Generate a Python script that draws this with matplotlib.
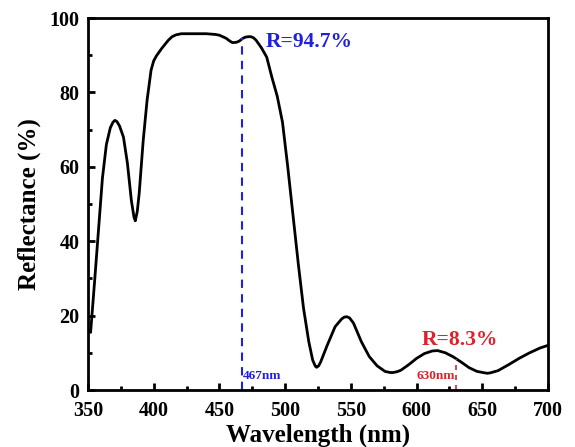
import numpy as np
import matplotlib.pyplot as plt
from matplotlib.ticker import MultipleLocator

plt.rcParams['font.family'] = ['Liberation Serif', 'DejaVu Serif']
plt.rcParams['font.weight'] = 'bold'

wavelength = [350.5, 352, 355, 358, 361, 364, 367, 369, 370.5, 372, 374, 377, 380, 383, 385, 386,
              387.5, 389, 392, 395, 398, 400, 402, 406, 411, 414, 417, 421, 425, 440, 447, 450, 455, 458, 460, 463, 465,
              468, 470, 472, 474, 476, 478, 482, 486, 490, 494, 498, 502, 506, 510, 514, 518, 521,
              523, 524, 525.5, 527, 532, 538, 543, 545, 547, 549, 552, 558, 564, 570, 576, 580, 582, 585, 588, 594,
              600, 606, 612, 616, 622, 628, 634, 640, 646, 652, 654, 656, 662, 670, 678,
              686, 694, 700]
reflectance = [16, 15.5, 29, 43, 57, 66, 70.5, 72, 72.5, 72.2, 71, 68, 61, 51, 46.5, 45.5,
               48, 53, 67, 78, 86, 88.5, 89.8, 91.8, 94, 95, 95.5, 95.8, 95.8, 95.8, 95.6, 95.4, 94.6, 93.8, 93.4, 93.5, 93.8,
               94.6, 94.9, 95, 95, 94.7, 94, 92, 89.5, 84, 79, 72, 60, 47, 34, 22, 13, 8,
               6.4, 6.1, 6.5, 7.5, 12, 17, 19.1, 19.6, 19.7, 19.4, 18, 13, 9, 6.5, 5, 4.7, 4.7, 4.9, 5.3, 6.8,
               8.5, 9.8, 10.5, 10.6, 10, 8.9, 7.5, 6, 5, 4.6, 4.5, 4.6, 5.2, 6.8, 8.5,
               10, 11.3, 12]

# Puntos marcados
peak_wl, peak_r = 467, 94.7
low_wl, low_r = 630, 8.3

fig = plt.figure(figsize=(5.75, 4.47), dpi=100)
ax = fig.add_axes([0.153, 0.1275, 0.8, 0.832])

ax.plot(wavelength, reflectance, color='black', linewidth=2, solid_joinstyle='round')

# Líneas de referencia
ax.plot([peak_wl, peak_wl], [0, peak_r], color='#2020e0', linestyle=(0, (4, 3)), linewidth=1.5)
ax.plot([low_wl, low_wl], [0, low_r], color='#e0202a', linestyle=(0, (3, 3)), linewidth=1.2)

ax.text(peak_wl + 18.5, 92.3, f'R={peak_r}%', color='#2020e0', fontsize=15.5, fontweight='bold')
ax.text(peak_wl + 0.8, 3, f'{peak_wl}nm', color='#2020e0', fontsize=9.5, fontweight='bold')
ax.text(604, 12.1, f'R={low_r}%', color='#e0202a', fontsize=15.5, fontweight='bold')
ax.text(low_wl - 0.8, 3, f'{low_wl}nm', color='#e0202a', fontsize=9.5, fontweight='bold', ha='right')

ax.set_xlim(350, 700)
ax.set_ylim(0, 100)
ax.xaxis.set_major_locator(MultipleLocator(50))
ax.xaxis.set_minor_locator(MultipleLocator(25))
ax.yaxis.set_major_locator(MultipleLocator(20))
ax.yaxis.set_minor_locator(MultipleLocator(10))
ax.tick_params(which='both', direction='in', width=2, labelsize=14.5)
ax.tick_params(which='major', length=5)
ax.tick_params(which='minor', length=3)
ax.tick_params(axis='x', pad=8)
ax.tick_params(axis='y', pad=6)
for s in ax.spines.values():
    s.set_linewidth(2)

ax.set_xlabel('Wavelength (nm)', fontsize=18, fontweight='bold', labelpad=2)
ax.set_ylabel('Reflectance (%)', fontsize=18, fontweight='bold', labelpad=6)

fig.savefig('out.png', dpi=100)
